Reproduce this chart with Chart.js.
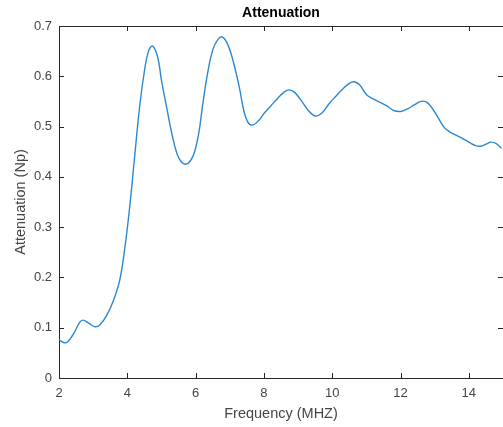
<!DOCTYPE html>
<html>
<head>
<meta charset="utf-8">
<script src="https://cdn.jsdelivr.net/npm/chart.js@4/dist/chart.umd.min.js"></script>
<style>
  html, body { margin: 0; padding: 0; background: #fff; }
  #wrap { width: 503px; height: 427px; }
</style>
</head>
<body>
<div id="wrap"><canvas id="chart_att"></canvas></div>
<script>
// frequency (MHz) and attenuation (Np)
var freq = [2.0, 2.2, 2.4, 2.6, 2.7, 2.85, 3.05, 3.2, 3.4, 3.6, 3.78, 3.93, 4.07, 4.2, 4.36, 4.5, 4.62, 4.74, 4.89, 5.0, 5.15, 5.3, 5.45, 5.58, 5.71, 5.85, 5.97, 6.1, 6.2, 6.35, 6.5, 6.65, 6.79, 6.95, 7.1, 7.28, 7.4, 7.52, 7.66, 7.85, 8.0, 8.2, 8.4, 8.6, 8.74, 8.9, 9.1, 9.3, 9.5, 9.7, 9.9, 10.1, 10.3, 10.5, 10.64, 10.8, 11.0, 11.2, 11.4, 11.6, 11.8, 12.0, 12.2, 12.4, 12.6, 12.75, 12.9, 13.1, 13.27, 13.45, 13.62, 13.8, 14.0, 14.2, 14.35, 14.5, 14.65, 14.8, 14.96];
var atten = [0.076, 0.070, 0.085, 0.110, 0.115, 0.110, 0.102, 0.106, 0.125, 0.155, 0.195, 0.260, 0.340, 0.430, 0.539, 0.610, 0.650, 0.660, 0.638, 0.592, 0.539, 0.487, 0.447, 0.430, 0.425, 0.432, 0.450, 0.490, 0.540, 0.606, 0.652, 0.673, 0.678, 0.662, 0.630, 0.578, 0.535, 0.510, 0.503, 0.512, 0.526, 0.541, 0.556, 0.569, 0.573, 0.568, 0.551, 0.532, 0.521, 0.527, 0.545, 0.560, 0.574, 0.586, 0.589, 0.583, 0.564, 0.555, 0.548, 0.541, 0.532, 0.530, 0.535, 0.543, 0.550, 0.549, 0.539, 0.518, 0.499, 0.489, 0.483, 0.477, 0.469, 0.462, 0.461, 0.465, 0.469, 0.466, 0.457];

var xTicks = [2, 4, 6, 8, 10, 12, 14];
var yTicks = [0, 0.1, 0.2, 0.3, 0.4, 0.5, 0.6, 0.7];

var points = freq.map(function(f, i) { return {x: f, y: atten[i]}; });

var axisColor = '#262626';
var labelColor = '#454545';
var font = 'Liberation Sans, Arial, sans-serif';

// matlab style box: inward ticks on all four sides, top border, title
var boxPlugin = {
  id: 'box',
  afterDraw: function(chart) {
    var ctx = chart.ctx;
    var a = chart.chartArea;
    var xs = chart.scales.x, ys = chart.scales.y;
    var len = 5;
    ctx.save();
    ctx.strokeStyle = axisColor;
    ctx.lineWidth = 1;
    ctx.beginPath();
    ctx.moveTo(a.left, a.top + 0.5);
    ctx.lineTo(a.right, a.top + 0.5);
    xTicks.forEach(function(t) {
      var px = Math.round(xs.getPixelForValue(t)) + 0.5;
      ctx.moveTo(px, a.bottom); ctx.lineTo(px, a.bottom - len);
      ctx.moveTo(px, a.top); ctx.lineTo(px, a.top + len);
    });
    yTicks.forEach(function(t) {
      var py = Math.round(ys.getPixelForValue(t)) + 0.5;
      ctx.moveTo(a.left, py); ctx.lineTo(a.left + len, py);
      ctx.moveTo(a.right, py); ctx.lineTo(a.right - len, py);
    });
    ctx.stroke();
    ctx.fillStyle = '#000';
    ctx.font = 'bold 14px ' + font;
    ctx.textAlign = 'center';
    ctx.textBaseline = 'middle';
    ctx.fillText('Attenuation', (a.left + a.right) / 2, 13);
    ctx.restore();
  }
};

var config_att = {
  type: 'line',
  data: {
    datasets: [{
      data: points,
      borderColor: '#2c88d0',
      borderWidth: 1.4,
      pointRadius: 0,
      fill: false,
      tension: 0.4
    }]
  },
  options: {
    responsive: true,
    maintainAspectRatio: false,
    animation: false,
    layout: { padding: { top: 26, right: 0, left: 0, bottom: 0 } },
    plugins: {
      legend: { display: false },
      tooltip: { enabled: false }
    },
    scales: {
      x: {
        type: 'linear',
        min: 2,
        max: 15,
        afterBuildTicks: function(s) { s.ticks = xTicks.map(function(v) { return {value: v}; }); },
        afterFit: function(s) { s.height = 49; },
        grid: { drawOnChartArea: false, drawTicks: false },
        border: { color: axisColor, width: 1 },
        ticks: { color: labelColor, font: { family: font, size: 13 }, padding: 8 },
        title: { display: true, text: 'Frequency (MHZ)', color: labelColor, font: { family: font, size: 14.5 }, padding: { top: 1 } }
      },
      y: {
        min: 0,
        max: 0.7,
        afterBuildTicks: function(s) { s.ticks = yTicks.map(function(v) { return {value: v}; }); },
        afterFit: function(s) { s.width = 59; },
        grid: { drawOnChartArea: false, drawTicks: false },
        border: { color: axisColor, width: 1 },
        ticks: { color: labelColor, font: { family: font, size: 13 }, padding: 7 },
        title: { display: true, text: 'Attenuation (Np)', color: labelColor, font: { family: font, size: 14.5 }, padding: { top: 12 } }
      }
    }
  },
  plugins: [boxPlugin]
};

var chart_att = new Chart(document.getElementById('chart_att'), config_att);
</script>
</body>
</html>
